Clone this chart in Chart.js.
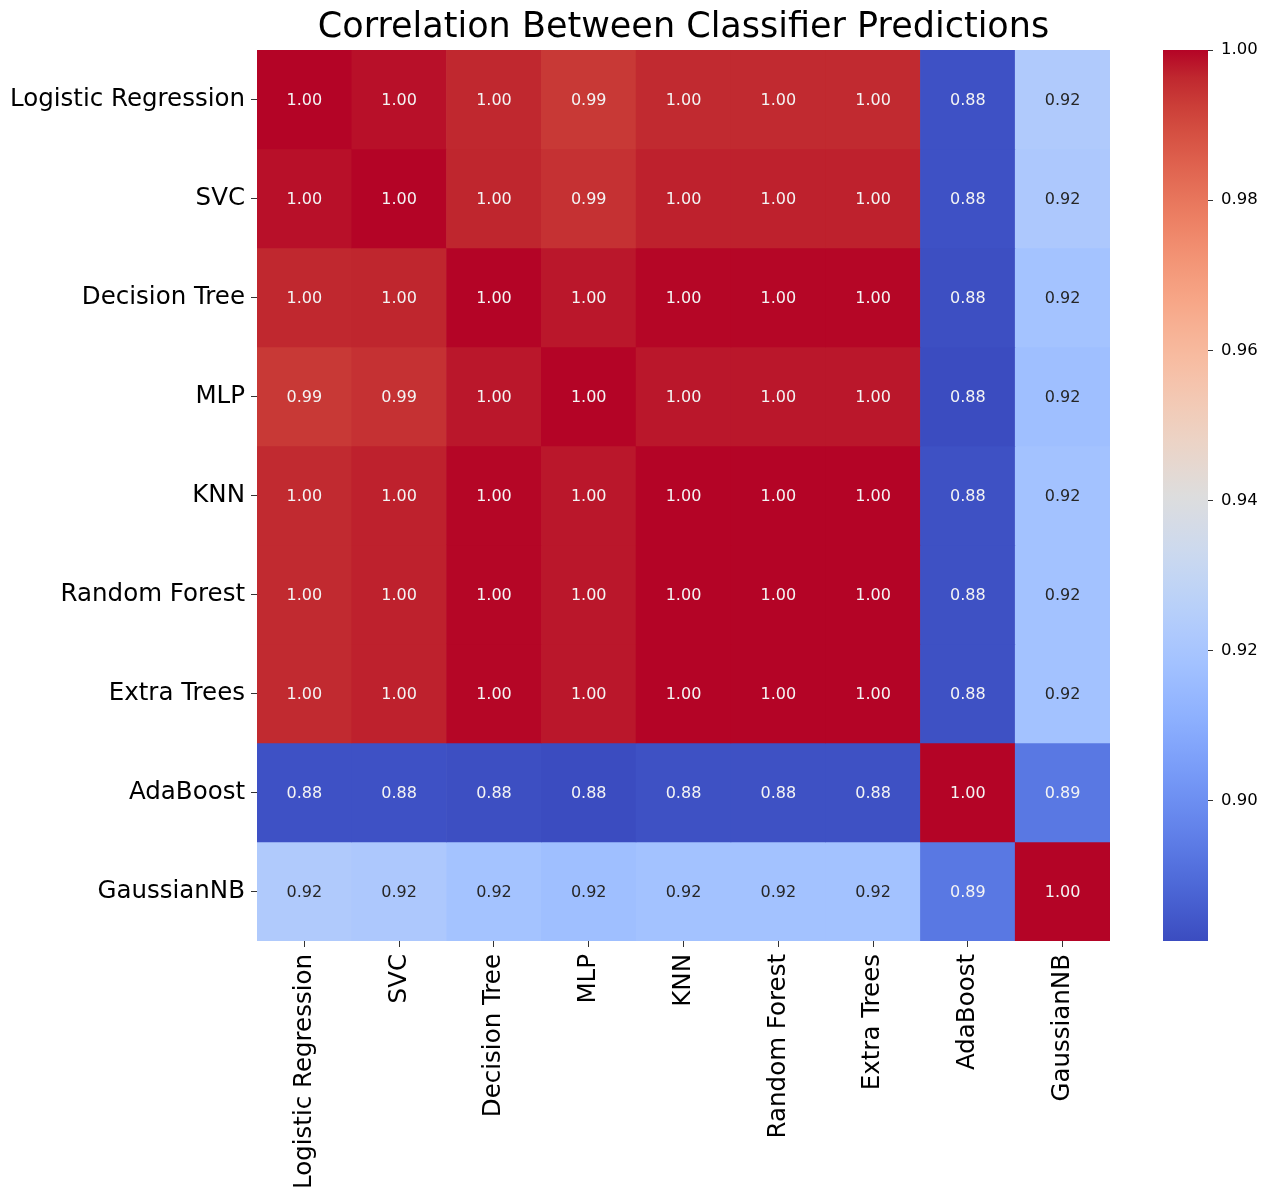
<!DOCTYPE html>
<html>
<head>
<meta charset="utf-8">
<script src="https://cdn.jsdelivr.net/npm/chart.js@4.4.1/dist/chart.umd.min.js"></script>
<style>
  html, body { margin: 0; padding: 0; background: #fff; overflow: hidden; }
  #wrap { position: relative; width: 1269px; height: 1187px; }
  #heat { position: absolute; left: 0; top: 0; }
  #cbar { position: absolute; left: 1150px; top: 0; }
</style>
</head>
<body>
<div id="wrap">
  <canvas id="heat" width="1140" height="1187"></canvas>
  <canvas id="cbar" width="119" height="1187"></canvas>
</div>
<script>
// Classifier names (rows top-to-bottom, columns left-to-right)
const classifiers = ['Logistic Regression', 'SVC', 'Decision Tree', 'MLP', 'KNN',
                     'Random Forest', 'Extra Trees', 'AdaBoost', 'GaussianNB'];

// Pairwise correlation of predictions, one array per row
const rowLogisticRegression = [1.0000, 0.9988, 0.9963, 0.9935, 0.9959, 0.9959, 0.9959, 0.8827, 0.9228];
const rowSVC                = [0.9988, 1.0000, 0.9965, 0.9947, 0.9970, 0.9970, 0.9970, 0.8827, 0.9217];
const rowDecisionTree       = [0.9963, 0.9965, 1.0000, 0.9980, 0.9998, 0.9998, 0.9998, 0.8820, 0.9187];
const rowMLP                = [0.9935, 0.9947, 0.9980, 1.0000, 0.9980, 0.9980, 0.9980, 0.8813, 0.9170];
const rowKNN                = [0.9959, 0.9970, 0.9998, 0.9980, 1.0000, 1.0000, 1.0000, 0.8825, 0.9184];
const rowRandomForest       = [0.9959, 0.9970, 0.9998, 0.9980, 1.0000, 1.0000, 1.0000, 0.8825, 0.9184];
const rowExtraTrees         = [0.9959, 0.9970, 0.9998, 0.9980, 1.0000, 1.0000, 1.0000, 0.8825, 0.9184];
const rowAdaBoost           = [0.8827, 0.8827, 0.8820, 0.8813, 0.8825, 0.8825, 0.8825, 1.0000, 0.8932];
const rowGaussianNB         = [0.9228, 0.9217, 0.9187, 0.9170, 0.9184, 0.9184, 0.9184, 0.8932, 1.0000];

const matrix = [rowLogisticRegression, rowSVC, rowDecisionTree, rowMLP, rowKNN,
                rowRandomForest, rowExtraTrees, rowAdaBoost, rowGaussianNB];

// Colour bar tick values
const cbarTicks = [0.90, 0.92, 0.94, 0.96, 0.98, 1.00];

const vmin = Math.min(...matrix.flat());
const vmax = Math.max(...matrix.flat());

const FONT = "'DejaVu Sans', 'Liberation Sans', sans-serif";

// Diverging "coolwarm" colour map, 33 control points
const COOLWARM = [
  [59,76,192],[68,90,204],[77,104,215],[87,117,225],[98,130,234],[108,142,241],
  [119,154,247],[130,165,251],[141,176,254],[152,185,255],[163,194,255],[174,201,253],
  [184,208,249],[194,213,244],[204,217,238],[213,219,230],[221,221,221],[229,216,209],
  [236,211,197],[241,204,185],[245,196,173],[247,187,160],[247,177,148],[247,166,135],
  [244,154,123],[241,141,111],[236,127,99],[229,112,88],[222,96,77],[213,80,66],
  [203,62,56],[192,40,47],[180,4,38]
];

function coolwarmRGB(t) {
  t = Math.max(0, Math.min(1, t));
  const p = t * (COOLWARM.length - 1);
  const i = Math.min(Math.floor(p), COOLWARM.length - 2);
  const f = p - i;
  const a = COOLWARM[i], b = COOLWARM[i + 1];
  return [0, 1, 2].map(k => Math.round(a[k] + (b[k] - a[k]) * f));
}
const norm = v => (v - vmin) / (vmax - vmin);
const rgbStr = c => `rgb(${c[0]},${c[1]},${c[2]})`;

function luminance(c) {
  const lin = c.map(x => { x /= 255; return x <= 0.03928 ? x / 12.92 : Math.pow((x + 0.055) / 1.055, 2.4); });
  return 0.2126 * lin[0] + 0.7152 * lin[1] + 0.0722 * lin[2];
}

// Writes each cell's value in its centre
const cellLabels = {
  id: 'cellLabels',
  afterDatasetsDraw(chart) {
    const ctx = chart.ctx;
    ctx.save();
    ctx.font = `16px ${FONT}`;
    ctx.textAlign = 'center';
    ctx.textBaseline = 'middle';
    chart.data.datasets.forEach((ds, r) => {
      const meta = chart.getDatasetMeta(r);
      meta.data.forEach((bar, c) => {
        const v = matrix[r][c];
        const rgb = coolwarmRGB(norm(v));
        ctx.fillStyle = luminance(rgb) > 0.408 ? '#262626' : '#f4f4f4';
        ctx.fillText(v.toFixed(2), bar.x, (bar.y + bar.base) / 2 + 1);
      });
    });
    ctx.restore();
  }
};

// Heat map: one floating-bar dataset per row, spanning [row, row + 1]
new Chart(document.getElementById('heat'), {
  type: 'bar',
  data: {
    labels: classifiers,
    datasets: matrix.map((vals, r) => ({
      label: classifiers[r],
      data: vals.map(() => [r, r + 1]),
      backgroundColor: vals.map(v => rgbStr(coolwarmRGB(norm(v)))),
      borderWidth: 0,
      grouped: false,
      barPercentage: 1,
      categoryPercentage: 1
    }))
  },
  options: {
    responsive: false,
    animation: false,
    layout: { padding: { left: 0, right: 30, top: 0, bottom: 0 } },
    plugins: {
      legend: { display: false },
      tooltip: { enabled: false },
      title: {
        display: true,
        text: 'Correlation Between Classifier Predictions',
        fullSize: false,
        color: '#000',
        font: { family: FONT, size: 35, weight: 'normal', lineHeight: 1.2 },
        padding: { top: 7, bottom: 1 }
      }
    },
    scales: {
      x: {
        type: 'category',
        position: 'bottom',
        grid: { drawOnChartArea: false, drawTicks: true, tickLength: 6, offset: false, color: '#333' },
        border: { display: false },
        ticks: { font: { family: FONT, size: 24.5 }, color: '#000', minRotation: 90, maxRotation: 90, autoSkip: false, padding: 7 },
        afterFit(s) { s.height = 246; }
      },
      y: {
        type: 'linear',
        min: 0,
        max: 9,
        reverse: true,
        afterBuildTicks(s) { s.ticks = classifiers.map((_, i) => ({ value: i + 0.5 })); },
        grid: { drawOnChartArea: false, drawTicks: true, tickLength: 6, color: '#333' },
        border: { display: false },
        ticks: { font: { family: FONT, size: 24.5 }, color: '#000', padding: 6, callback: (v, i) => classifiers[i] },
        afterFit(s) { s.width = 257; }
      }
    }
  },
  plugins: [cellLabels]
});

// Colour bar: a single floating bar from vmin to vmax filled with the colour map
function barGradient(chart) {
  const area = chart.chartArea;
  if (!area) return rgbStr(COOLWARM[16]);
  const g = chart.ctx.createLinearGradient(0, area.bottom, 0, area.top);
  COOLWARM.forEach((c, i) => g.addColorStop(i / (COOLWARM.length - 1), rgbStr(c)));
  return g;
}

new Chart(document.getElementById('cbar'), {
  type: 'bar',
  data: {
    labels: [''],
    datasets: [{
      data: [[vmin, vmax]],
      backgroundColor: ctx => barGradient(ctx.chart),
      borderWidth: 0,
      barPercentage: 1,
      categoryPercentage: 1
    }]
  },
  options: {
    responsive: false,
    animation: false,
    layout: { padding: { left: 13, right: 0, top: 50, bottom: 246 } },
    plugins: { legend: { display: false }, tooltip: { enabled: false } },
    scales: {
      x: { display: false },
      y: {
        type: 'linear',
        position: 'right',
        min: vmin,
        max: vmax,
        afterBuildTicks(s) { s.ticks = cbarTicks.map(v => ({ value: v })); },
        grid: { drawOnChartArea: false, drawTicks: true, tickLength: 5, color: '#333' },
        border: { display: false },
        ticks: { font: { family: FONT, size: 16.5 }, color: '#000', padding: 8, callback: v => v.toFixed(2) },
        afterFit(s) { s.width = 61; }
      }
    }
  }
});
</script>
</body>
</html>
